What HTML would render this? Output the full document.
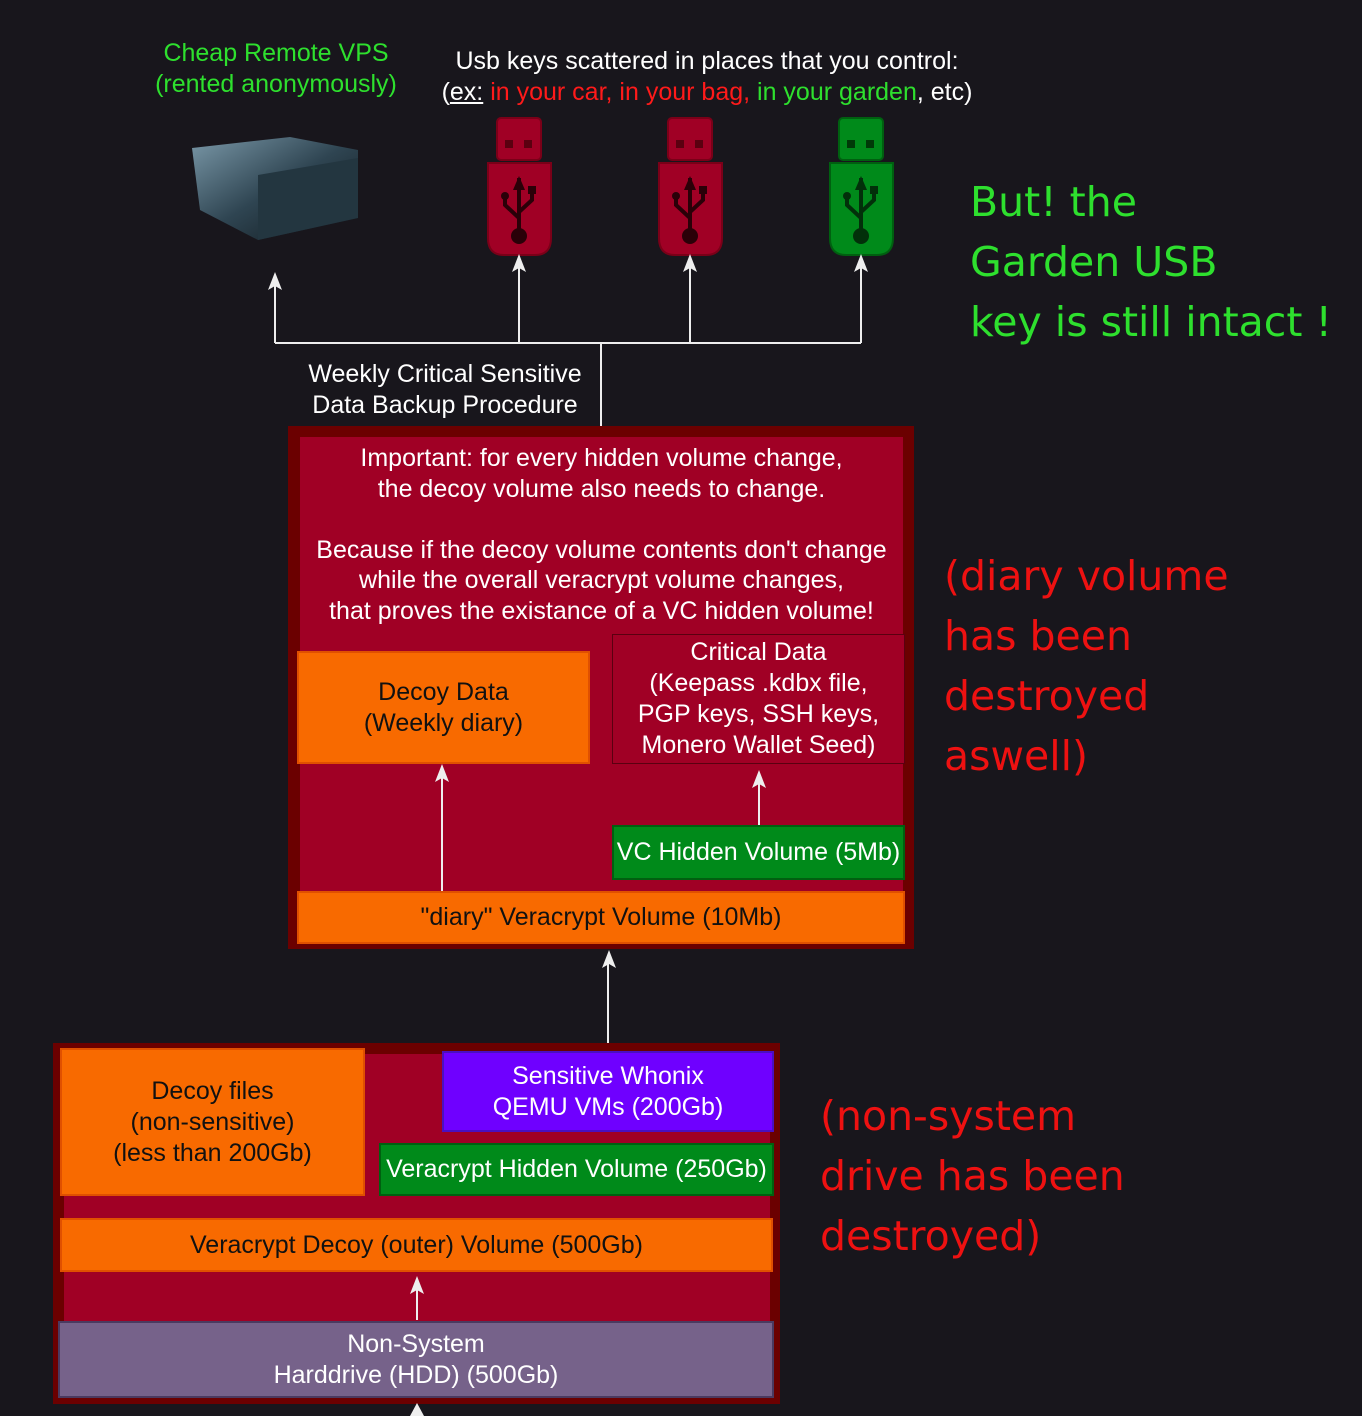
<!DOCTYPE html>
<html><head><meta charset="utf-8"><style>
body{margin:0;width:1362px;height:1416px;background:#18161c;position:relative;overflow:hidden;font-family:"Liberation Sans",sans-serif;color:#fff}
.a{position:absolute;box-sizing:border-box;display:flex;align-items:center;justify-content:center;text-align:center;font-size:25px;line-height:31px}
.t{position:absolute;text-align:center;white-space:nowrap}
.big{position:absolute;font-family:"DejaVu Sans","Liberation Sans",sans-serif;font-size:41px;line-height:60px;white-space:nowrap}
</style></head><body>
<div class="t" style="left:140px;top:38px;width:272px;font-size:25px;line-height:31px;color:#2ee02e">Cheap Remote VPS<br>(rented anonymously)</div>
<div class="t" style="left:420px;top:46px;width:574px;font-size:25px;line-height:31px;color:#fff">Usb keys scattered in places that you control:<br>(<u>ex:</u> <span style="color:#ff1a1a">in your car, in your bag,</span> <span style="color:#2ee02e">in your garden</span>, etc)</div>

<svg style="position:absolute;left:0;top:0" width="1362" height="1416">
<defs><linearGradient id="g" x1="0" y1="0" x2="1" y2="1"><stop offset="0" stop-color="#7a98a8"/><stop offset="0.5" stop-color="#2f4552"/><stop offset="1" stop-color="#0d1418"/></linearGradient></defs>
<polygon points="192,148 290,137 358,150 358,218 258,240 200,210" fill="url(#g)"/>
<polygon points="258,175 358,158 358,218 258,240" fill="#233640"/>
<g id="u">
<rect x="497" y="118" width="44" height="42" rx="4" fill="#a00025" stroke="#7a0018" stroke-width="2"/>
<rect x="505" y="140" width="8" height="8" fill="#5a0010"/><rect x="524" y="140" width="8" height="8" fill="#5a0010"/>
<path d="M488 163 H551 V238 Q551 255 535 255 H504 Q488 255 488 238Z" fill="#a00025" stroke="#7a0018" stroke-width="2"/>
<path d="M519 178 V232 M519 218 L505 205 V196 M519 212 L532 200 V190" stroke="#2a0008" stroke-width="4" fill="none"/>
<polygon points="519,176 513,190 525,190" fill="#2a0008"/><circle cx="519" cy="236" r="8" fill="#2a0008"/><circle cx="505" cy="196" r="4" fill="#2a0008"/><rect x="528" y="186" width="8" height="8" fill="#2a0008"/>
</g>
<use href="#u" x="171"/>
<g transform="translate(342,0)">
<rect x="497" y="118" width="44" height="42" rx="4" fill="#008a1a" stroke="#006010" stroke-width="2"/>
<rect x="505" y="140" width="8" height="8" fill="#003a08"/><rect x="524" y="140" width="8" height="8" fill="#003a08"/>
<path d="M488 163 H551 V238 Q551 255 535 255 H504 Q488 255 488 238Z" fill="#008a1a" stroke="#006010" stroke-width="2"/>
<path d="M519 178 V232 M519 218 L505 205 V196 M519 212 L532 200 V190" stroke="#02300a" stroke-width="4" fill="none"/>
<polygon points="519,176 513,190 525,190" fill="#02300a"/><circle cx="519" cy="236" r="8" fill="#02300a"/><circle cx="505" cy="196" r="4" fill="#02300a"/><rect x="528" y="186" width="8" height="8" fill="#02300a"/>
</g>
<g stroke="#eee" stroke-width="2" fill="none">
<path d="M275 343 H861 M275 343 V280 M519 343 V262 M690 343 V262 M861 343 V262 M601 343 V431"/>
</g>
<g fill="#eee">
<polygon points="275,272 268,290 275,286 282,290"/>
<polygon points="519,254 512,272 519,268 526,272"/>
<polygon points="690,254 683,272 690,268 697,272"/>
<polygon points="861,254 854,272 861,268 868,272"/>
</g>
</svg>
<div class="t" style="left:290px;top:359px;width:310px;font-size:25px;line-height:31px">Weekly Critical Sensitive<br>Data Backup Procedure</div>

<div class="big" style="left:970px;top:172px;color:#2ee02e">But! the<br>Garden USB<br>key is still intact !</div>
<div class="big" style="left:944px;top:546px;color:#ee1111">(diary volume<br>has been<br>destroyed<br>aswell)</div>
<div class="big" style="left:820px;top:1086px;color:#ee1111">(non-system<br>drive has been<br>destroyed)</div>

<!-- top container -->
<div class="a" style="left:288px;top:426px;width:626px;height:523px;background:#6b0000"></div>
<div class="a" style="left:300px;top:437px;width:603px;height:503px;background:#a00025"></div>
<div class="t" style="left:300px;top:443px;width:603px;font-size:25px;line-height:30.5px">Important: for every hidden volume change,<br>the decoy volume also needs to change.<br><br>Because if the decoy volume contents don't change<br>while the overall veracrypt volume changes,<br>that proves the existance of a VC hidden volume!</div>
<div class="a" style="left:297px;top:651px;width:293px;height:113px;background:#f86a00;border:2px solid #e05000;color:#111">Decoy Data<br>(Weekly diary)</div>
<div class="a" style="left:612px;top:634px;width:293px;height:130px;background:#a00025;border:1.5px solid #5a0010">Critical Data<br>(Keepass .kdbx file,<br>PGP keys, SSH keys,<br>Monero Wallet Seed)</div>
<div class="a" style="left:612px;top:825px;width:293px;height:55px;background:#008a1a;border:2px solid #006010">VC Hidden Volume (5Mb)</div>
<div class="a" style="left:297px;top:891px;width:608px;height:53px;background:#f86a00;border:2px solid #e05000;color:#111">"diary" Veracrypt Volume (10Mb)</div>

<!-- bottom container -->
<div class="a" style="left:53px;top:1043px;width:727px;height:361px;background:#6b0000"></div>
<div class="a" style="left:64px;top:1054px;width:706px;height:340px;background:#a00025"></div>
<div class="a" style="left:60px;top:1048px;width:305px;height:148px;background:#f86a00;border:2px solid #e05000;color:#111">Decoy files<br>(non-sensitive)<br>(less than 200Gb)</div>
<div class="a" style="left:442px;top:1051px;width:332px;height:81px;background:#6f00ff;border:2px solid #4a10c0">Sensitive Whonix<br>QEMU VMs (200Gb)</div>
<div class="a" style="left:379px;top:1143px;width:395px;height:53px;background:#008a1a;border:2px solid #006010">Veracrypt Hidden Volume (250Gb)</div>
<div class="a" style="left:60px;top:1218px;width:713px;height:54px;background:#f86a00;border:2px solid #e05000;color:#111">Veracrypt Decoy (outer) Volume (500Gb)</div>
<div class="a" style="left:58px;top:1321px;width:716px;height:77px;background:#76628a;border:2px solid #4a3a60">Non-System<br>Harddrive (HDD) (500Gb)</div>

<svg style="position:absolute;left:0;top:0" width="1362" height="1416">
<g stroke="#eee" stroke-width="2"><path d="M442 891 V772 M759 825 V778 M608 1043 V960 M417 1320 V1284"/></g>
<g fill="#eee">
<polygon points="442,764 435,782 442,778 449,782"/>
<polygon points="759,770 752,788 759,784 766,788"/>
<polygon points="609,950 602,968 609,964 616,968"/>
<polygon points="417,1276 410,1294 417,1290 424,1294"/>
<polygon points="417,1403 410,1416 424,1416"/>
</g></svg>
</body></html>
